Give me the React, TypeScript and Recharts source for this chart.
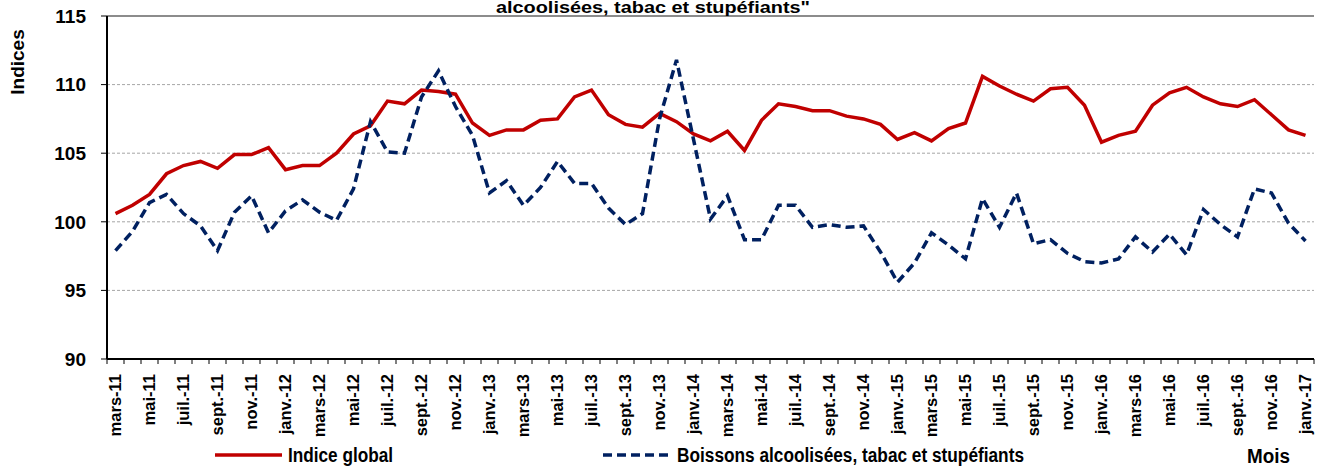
import { LineChart, Line, XAxis, YAxis, CartesianGrid, ReferenceLine } from "recharts"

const mois = [
  "mars-11", "avr.-11", "mai-11", "juin-11", "juil.-11", "août-11", "sept.-11", "oct.-11", "nov.-11", "déc.-11",
  "janv.-12", "févr.-12", "mars-12", "avr.-12", "mai-12", "juin-12", "juil.-12", "août-12", "sept.-12", "oct.-12", "nov.-12", "déc.-12",
  "janv.-13", "févr.-13", "mars-13", "avr.-13", "mai-13", "juin-13", "juil.-13", "août-13", "sept.-13", "oct.-13", "nov.-13", "déc.-13",
  "janv.-14", "févr.-14", "mars-14", "avr.-14", "mai-14", "juin-14", "juil.-14", "août-14", "sept.-14", "oct.-14", "nov.-14", "déc.-14",
  "janv.-15", "févr.-15", "mars-15", "avr.-15", "mai-15", "juin-15", "juil.-15", "août-15", "sept.-15", "oct.-15", "nov.-15", "déc.-15",
  "janv.-16", "févr.-16", "mars-16", "avr.-16", "mai-16", "juin-16", "juil.-16", "août-16", "sept.-16", "oct.-16", "nov.-16", "déc.-16",
  "janv.-17",
]

const indiceGlobal = [
  100.6, 101.2, 102.0, 103.5, 104.1, 104.4, 103.9, 104.9, 104.9, 105.4,
  103.8, 104.1, 104.1, 105.0, 106.4, 107.0, 108.8, 108.6, 109.6, 109.5, 109.3, 107.2,
  106.3, 106.7, 106.7, 107.4, 107.5, 109.1, 109.6, 107.8, 107.1, 106.9, 107.9, 107.3,
  106.4, 105.9, 106.6, 105.2, 107.4, 108.6, 108.4, 108.1, 108.1, 107.7, 107.5, 107.1,
  106.0, 106.5, 105.9, 106.8, 107.2, 110.6, 109.9, 109.3, 108.8, 109.7, 109.8, 108.5,
  105.8, 106.3, 106.6, 108.5, 109.4, 109.8, 109.1, 108.6, 108.4, 108.9, 107.8, 106.7,
  106.3,
]

const boissons = [
  97.9, 99.3, 101.4, 102.0, 100.6, 99.7, 97.9, 100.7, 101.9, 99.2,
  100.8, 101.6, 100.7, 100.1, 102.4, 107.3, 105.1, 105.0, 109.1, 111.0, 108.4, 106.3,
  102.1, 103.0, 101.2, 102.5, 104.4, 102.8, 102.8, 101.0, 99.8, 100.6, 107.5, 111.8,
  106.0, 100.2, 101.9, 98.7, 98.7, 101.2, 101.2, 99.6, 99.8, 99.6, 99.7, 97.8,
  95.6, 97.0, 99.2, 98.3, 97.3, 101.7, 99.6, 102.1, 98.4, 98.7, 97.7, 97.1,
  97.0, 97.3, 98.9, 97.8, 99.1, 97.6, 100.9, 99.8, 98.9, 102.4, 102.1, 99.9,
  98.6,
]

const yTicks = [90, 95, 100, 105, 110, 115]

const data = mois.map((m, i) => ({ mois: m, global: indiceGlobal[i], boissons: boissons[i] }))

const FONT = "'Liberation Sans', Arial, sans-serif"
const RED = "#c00000"
const NAVY = "#002060"
const HALF = 8.5

function MoisTick(props: any) {
  const { x, y, payload, index } = props
  const last = index === mois.length - 1
  return (
    <g>
      <line x1={x - HALF} x2={x - HALF} y1={y} y2={y + 5} stroke="#000" strokeWidth={1} />
      {last && <line x1={x + HALF} x2={x + HALF} y1={y} y2={y + 5} stroke="#000" strokeWidth={1} />}
      {index % 2 === 0 && (
        <text
          x={x}
          y={y + 15}
          transform={`rotate(-90, ${x}, ${y + 15})`}
          textAnchor="end"
          dy="0.36em"
          fontSize={16.5}
          fontWeight="bold"
          fontFamily={FONT}
          fill="#000"
        >
          {payload.value}
        </text>
      )}
    </g>
  )
}

export default function App() {
  return (
    <div style={{ position: "absolute", left: 0, top: 0, width: 1320, height: 468, background: "#fff" }}>
      <LineChart width={1320} height={468} data={data} margin={{ top: 16, right: 6, bottom: 0, left: 0 }}>
        <CartesianGrid vertical={false} stroke="#a6a6a6" strokeDasharray="3 2" />
        <ReferenceLine y={115} stroke="#8c8c8c" strokeWidth={2} />
        <XAxis
          dataKey="mois"
          interval={0}
          height={109}
          padding={{ left: HALF, right: HALF }}
          tickLine={false}
          tickSize={0}
          tickMargin={0}
          axisLine={{ stroke: "#000", strokeWidth: 2 }}
          tick={<MoisTick />}
        />
        <YAxis
          domain={[90, 115]}
          ticks={yTicks}
          width={107}
          tickSize={6}
          tickMargin={15}
          axisLine={{ stroke: "#000", strokeWidth: 2 }}
          tickLine={{ stroke: "#000" }}
          tick={{ fill: "#000", fontSize: 19, fontWeight: "bold", fontFamily: FONT }}
        />
        <YAxis
          yAxisId="bord"
          orientation="right"
          domain={[90, 115]}
          width={0}
          tick={false}
          tickLine={false}
          axisLine={{ stroke: "#8c8c8c", strokeWidth: 2 }}
        />
        <Line
          dataKey="global"
          type="linear"
          stroke={RED}
          strokeWidth={3.5}
          dot={false}
          isAnimationActive={false}
        />
        <Line
          dataKey="boissons"
          type="linear"
          stroke={NAVY}
          strokeWidth={3.5}
          strokeDasharray="9 5"
          dot={false}
          isAnimationActive={false}
        />
      </LineChart>
      <svg
        width={1320}
        height={468}
        style={{ position: "absolute", left: 0, top: 0, pointerEvents: "none" }}
        fontFamily={FONT}
        fontWeight="bold"
      >
        <text x={653} y={12.5} textAnchor="middle" fontSize={16} textLength={314} lengthAdjust="spacingAndGlyphs">
          alcoolisées, tabac et stupéfiants"
        </text>
        <text x={24} y={62} transform="rotate(-90, 24, 62)" textAnchor="middle" fontSize={19}>
          Indices
        </text>
        <line x1={215} x2={282} y1={455} y2={455} stroke={RED} strokeWidth={3.5} />
        <text x={288} y={462} fontSize={20} textLength={105} lengthAdjust="spacingAndGlyphs">
          Indice global
        </text>
        <line x1={603} x2={668} y1={455} y2={455} stroke={NAVY} strokeWidth={3.5} strokeDasharray="9 5" />
        <text x={677} y={462} fontSize={20} textLength={347} lengthAdjust="spacingAndGlyphs">
          Boissons alcoolisées, tabac et stupéfiants
        </text>
        <text x={1247} y={463} fontSize={20} textLength={43} lengthAdjust="spacingAndGlyphs">
          Mois
        </text>
      </svg>
    </div>
  )
}
